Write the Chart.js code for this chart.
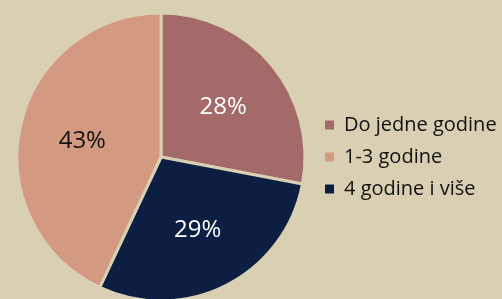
<!DOCTYPE html>
<html><head><meta charset="utf-8">
<script src="https://cdn.jsdelivr.net/npm/chart.js@4/dist/chart.umd.min.js"></script>
<style>
html,body{margin:0;padding:0;background:#D9D0B3;overflow:hidden;}
#wrap{width:502px;height:314px;position:relative;}
</style></head><body>
<div id="wrap"><canvas id="c"></canvas></div>
<script>
// drawing order (clockwise from top)
const categories = ["Do jedne godine", "4 godine i više", "1-3 godine"];
const values = [28, 29, 43];
const colors = ["#A36A69", "#0C1F43", "#D49A81"];
const labelColors = ["#FFFFFF", "#FFFFFF", "#111111"];
const legendOrder = [0, 2, 1];

const pctLabels = {
  id: 'pctLabels',
  afterDatasetsDraw(chart) {
    const ctx = chart.ctx;
    const meta = chart.getDatasetMeta(0);
    ctx.save();
    ctx.font = '24px "Open Sans"';
    ctx.textAlign = 'center';
    ctx.textBaseline = 'alphabetic';
    meta.data.forEach((arc, i) => {
      const p = arc.getProps(['x','y','startAngle','endAngle','outerRadius'], true);
      const mid = (p.startAngle + p.endAngle) / 2;
      const r = p.outerRadius * 0.56;
      ctx.fillStyle = labelColors[i];
      ctx.fillText(values[i] + '%', p.x + Math.cos(mid) * r, p.y + Math.sin(mid) * r + 8.5);
    });
    ctx.restore();
  }
};

new Chart(document.getElementById('c'), {
  type: 'pie',
  data: {
    labels: categories,
    datasets: [{
      data: values,
      backgroundColor: colors,
      borderColor: '#D9D0B3',
      borderWidth: 3
    }]
  },
  options: {
    responsive: true,
    maintainAspectRatio: false,
    animation: false,
    layout: { padding: { left: 9, top: 11.5, bottom: 11.5, right: 0 } },
    plugins: {
      tooltip: { enabled: false },
      legend: {
        position: 'right',
        maxWidth: 189,
        labels: {
          font: { family: '"Open Sans"', size: 20 },
          color: '#111',
          boxWidth: 9,
          boxHeight: 9,
          padding: 12,
          sort: (a, b) => legendOrder[a.index] - legendOrder[b.index],
          generateLabels: (chart) =>
            Chart.overrides.pie.plugins.legend.labels.generateLabels(chart)
              .map(l => Object.assign(l, { lineWidth: 0, strokeStyle: l.fillStyle }))
        }
      }
    }
  },
  plugins: [pctLabels]
});
</script>
</body></html>
